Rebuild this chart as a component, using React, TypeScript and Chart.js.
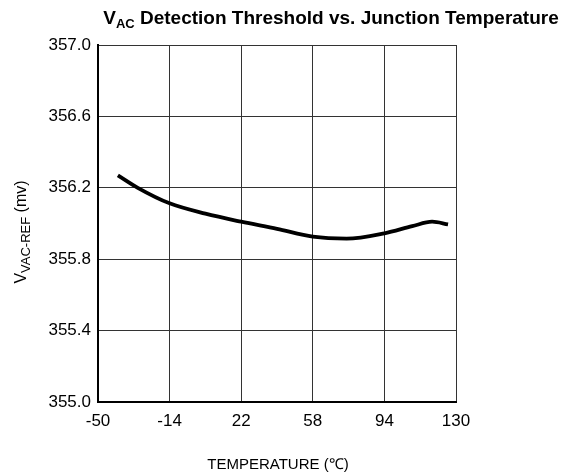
import React, { useEffect, useRef } from "react";
import { Chart, registerables } from "chart.js";

Chart.register(...registerables);

const temperatures = [-40, -30, -14, 4, 22, 40, 58, 75, 94, 108, 118, 126];
const thresholdMv = [356.27, 356.2, 356.113, 356.055, 356.01, 355.97, 355.926, 355.915, 355.945, 355.985, 356.01, 355.995];
const xTicks = [-50, -14, 22, 58, 94, 130];
const yTicks = [355.0, 355.4, 355.8, 356.2, 356.6, 357.0];

const FONT = "'Liberation Sans', Arial, sans-serif";

const textPlugin = {
  id: "customText",
  afterDraw(chart: any) {
    const ctx = chart.ctx as CanvasRenderingContext2D;
    ctx.save();
    ctx.fillStyle = "#000";
    ctx.textBaseline = "alphabetic";
    // Title with subscript
    const big = `bold 19px ${FONT}`;
    const small = `bold 13px ${FONT}`;
    const parts: [string, string, number][] = [
      ["V", big, 0],
      ["AC", small, 4],
      [" Detection Threshold vs. Junction Temperature", big, 0],
    ];
    let total = 0;
    for (const [t, f] of parts) {
      ctx.font = f;
      total += ctx.measureText(t).width;
    }
    let x = 331 - total / 2;
    const baseY = 24;
    ctx.textAlign = "left";
    for (const [t, f, dy] of parts) {
      ctx.font = f;
      ctx.fillText(t, x, baseY + dy);
      x += ctx.measureText(t).width;
    }
    // X axis title
    ctx.font = `15px ${FONT}`;
    ctx.textAlign = "center";
    ctx.fillText("TEMPERATURE (\u2103)", 278, 469);
    // Y axis title rotated
    const yparts: [string, string, number][] = [
      ["V", `16px ${FONT}`, 0],
      ["VAC-REF", `13px ${FONT}`, 4],
      [" (mv)", `16px ${FONT}`, 0],
    ];
    let ytotal = 0;
    for (const [t, f] of yparts) {
      ctx.font = f;
      ytotal += ctx.measureText(t).width;
    }
    ctx.translate(26, 232);
    ctx.rotate(-Math.PI / 2);
    ctx.textAlign = "left";
    let yx = -ytotal / 2;
    for (const [t, f, dy] of yparts) {
      ctx.font = f;
      ctx.fillText(t, yx, dy);
      yx += ctx.measureText(t).width;
    }
    ctx.restore();
  },
};

export default function App() {
  const ref = useRef<HTMLCanvasElement>(null);
  useEffect(() => {
    if (!ref.current) return;
    const chart = new Chart(ref.current, {
      type: "line",
      data: {
        datasets: [
          {
            data: temperatures.map((t, i) => ({ x: t, y: thresholdMv[i] })),
            borderColor: "#000",
            borderWidth: 3.8,
            pointRadius: 0,
            cubicInterpolationMode: "monotone",
            fill: false,
          },
        ],
      },
      options: {
        animation: false,
        responsive: false,
        devicePixelRatio: 1,
        layout: { padding: { left: 0, top: 45, right: 111, bottom: 0 } },
        plugins: { legend: { display: false }, tooltip: { enabled: false }, title: { display: false } },
        scales: {
          x: {
            type: "linear",
            min: -50,
            max: 130,
            afterBuildTicks: (s: any) => {
              s.ticks = xTicks.map((v) => ({ value: v }));
            },
            afterFit: (s: any) => {
              s.height = 73;
            },
            ticks: {
              color: "#000",
              font: { family: FONT, size: 17 },
              padding: 9,
              maxRotation: 0,
              autoSkip: false,
            },
            grid: { color: "#333", lineWidth: 1, drawTicks: false },
            border: { color: "#000", width: 2 },
          },
          y: {
            type: "linear",
            min: 355,
            max: 357,
            afterBuildTicks: (s: any) => {
              s.ticks = yTicks.map((v) => ({ value: v }));
            },
            afterFit: (s: any) => {
              s.width = 98;
            },
            ticks: {
              color: "#000",
              font: { family: FONT, size: 17 },
              padding: 7,
              callback: (v: any) => Number(v).toFixed(1),
              autoSkip: false,
            },
            grid: { color: "#333", lineWidth: 1, drawTicks: false },
            border: { color: "#000", width: 2 },
          },
        },
      },
      plugins: [textPlugin],
    } as any);
    return () => chart.destroy();
  }, []);
  return (
    <div style={{ position: "absolute", left: 0, top: 0, width: 567, height: 475, background: "#fff" }}>
      <canvas ref={ref} width={567} height={475} style={{ width: 567, height: 475, display: "block" }} />
    </div>
  );
}
